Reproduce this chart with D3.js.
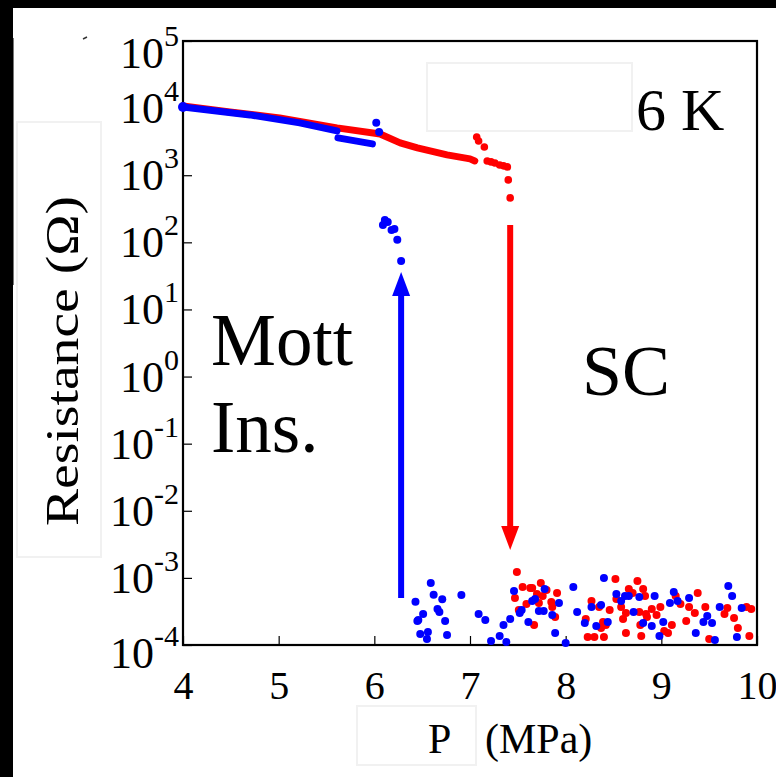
<!DOCTYPE html>
<html>
<head>
<meta charset="utf-8">
<script src="https://cdn.jsdelivr.net/npm/d3@7"></script>
<style>
    body { margin: 0; background: #fff; }
    svg { display: block; }
    text { font-family: "Liberation Serif", "Times New Roman", serif; fill: #000; }
</style>
</head>
<body>
<svg id="chart" width="776" height="777"></svg>
<script>

// axis ticks
var xTicks = [4, 5, 6, 7, 8, 9, 10];
var yExponents = [5, 4, 3, 2, 1, 0, -1, -2, -3, -4];

// red sweep (increasing pressure): dense part of the curve
var redLineP = [4.00, 4.49, 5.01, 5.61, 6.06, 6.27, 6.45, 6.76, 7.00, 7.05];
var redLineR = [10800, 8770, 7140, 5070, 4120, 3030, 2550, 2010, 1750, 1630];

// red sweep: separate points near the transition
var redDotP = [7.07, 7.09, 7.15, 7.18, 7.22, 7.26, 7.31, 7.35, 7.39, 7.40, 7.42];
var redDotR = [3720, 3240, 2640, 1630, 1580, 1520, 1420, 1380, 1330, 851, 459];

// red sweep: superconducting floor
var redLowP = [7.49, 7.47, 7.55, 7.63, 7.65, 7.59, 7.51, 7.67, 7.74, 7.70, 7.76, 7.80, 7.72, 7.85, 7.91, 7.86,
    7.89, 8.21, 8.27, 8.35, 8.46, 8.39, 8.37, 8.42, 8.23, 8.30, 8.40, 8.52, 8.53, 8.58, 8.63, 8.60,
    8.63, 8.66, 8.70, 8.75, 8.77, 8.81, 8.83, 8.84, 8.85, 8.78, 8.79, 8.90, 8.95, 8.99, 9.03, 9.07,
    9.11, 9.15, 9.20, 9.26, 9.29, 9.35, 9.38, 9.46, 9.50, 9.66, 9.69, 9.76, 9.80, 9.89, 9.94, 9.92];
var redLowR = [12.2e-4, 5.02e-4, 7.32e-4, 7.07e-4, 7.07e-4, 4.08e-4, 3.32e-4, 1.99e-4, 8.4e-4, 5.75e-4, 5.37e-4,
    6.6e-4, 4.23e-4, 4.37e-4, 5.95e-4, 3.69e-4, 2.61e-4, 2.44e-4, 4.53e-4, 3.69e-4, 3.32e-4, 2.2e-4,
    1.79e-4, 1.99e-4, 1.32e-4, 1.32e-4, 1.32e-4, 9.63e-4, 4.85e-4, 3.69e-4, 3.0e-4, 2.44e-4, 1.51e-4,
    6.83e-4, 5.95e-4, 8.99e-4, 3.1e-4, 6.83e-4, 5.37e-4, 2.9e-4, 2.61e-4, 1.99e-4, 1.36e-4, 3.44e-4,
    2.8e-4, 3.69e-4, 1.62e-4, 1.51e-4, 1.99e-4, 5.37e-4, 4.08e-4, 2.28e-4, 3.69e-4, 3.0e-4, 5.95e-4,
    3.69e-4, 1.23e-4, 2.9e-4, 3.56e-4, 2.53e-4, 1.79e-4, 3.69e-4, 3.44e-4, 1.36e-4];

// blue sweep (decreasing pressure): dense parts of the curve
var blueLineP = [4.00, 4.70, 5.22, 5.61];
var blueLineR = [10400, 7920, 6020, 4570];
var blueStepP = [5.62, 5.98];
var blueStepR = [3600, 2930];

// blue sweep: separate points near the transition
var blueDotP = [6.02, 6.05, 6.09, 6.11, 6.14, 6.18, 6.21, 6.24, 6.28];
var blueDotR = [6030, 4420, 182, 216, 201, 153, 158, 109, 52.8];

// blue sweep: superconducting floor
var blueLowP = [6.59, 6.43, 6.62, 6.71, 6.51, 6.66, 6.68, 6.45, 6.46, 6.74, 6.48, 6.56, 6.55, 6.76, 6.91, 7.09,
    7.16, 7.22, 7.31, 7.38, 7.35, 7.42, 7.46, 7.52, 7.54, 7.61, 7.65, 7.68, 7.72, 7.77, 7.78, 7.86,
    7.89, 7.93, 8.00, 8.08, 8.12, 8.20, 8.27, 8.32, 8.37, 8.40, 8.44, 8.53, 8.58, 8.62, 8.66, 8.71,
    8.77, 8.81, 8.90, 8.93, 8.98, 9.02, 9.09, 9.13, 9.17, 9.29, 9.36, 9.44, 9.48, 9.53, 9.56, 9.61,
    9.70, 9.74, 9.79, 9.84];
var blueLowR = [8.4e-4, 4.4e-4, 5.6e-4, 4.8e-4, 2.9e-4, 3.44e-4, 3.1e-4, 2.28e-4, 2.36e-4, 2.28e-4, 1.46e-4,
    1.56e-4, 1.23e-4, 1.41e-4, 5.56e-4, 2.9e-4, 2.36e-4, 1.15e-4, 1.36e-4, 1.11e-4, 1.99e-4, 2.44e-4,
    6.38e-4, 3.0e-4, 3.32e-4, 2.2e-4, 4.53e-4, 4.85e-4, 3.21e-4, 3.21e-4, 6.83e-4, 2.8e-4, 1.51e-4,
    4.23e-4, 1.07e-4, 7.32e-4, 3.1e-4, 2.13e-4, 3.69e-4, 1.92e-4, 3.95e-4, 9.97e-4, 2.2e-4, 5.75e-4,
    4.53e-4, 5.37e-4, 5.37e-4, 3.1e-4, 5.19e-4, 2.13e-4, 1.92e-4, 5.37e-4, 1.36e-4, 2.2e-4, 4.23e-4,
    6.16e-4, 4.53e-4, 5.02e-4, 1.51e-4, 2.2e-4, 2.71e-4, 2.13e-4, 1.19e-4, 3.69e-4, 7.57e-4, 5.37e-4,
    1.32e-4, 3.56e-4];

// transition arrows: pressure, start resistance, tip resistance
var blueArrow = { p: 6.28, from: 5.0e-4, to: 36 };
var redArrow = { p: 7.42, from: 182, to: 2.6e-3 };

var svg = d3.select('#chart');

// black scan edges along top and left
svg.append('rect').attr('x', 0).attr('y', 0).attr('width', 776).attr('height', 8).attr('fill', '#000');
svg.append('rect').attr('x', 0).attr('y', 0).attr('width', 13).attr('height', 777).attr('fill', '#000');
svg.append('line').attr('x1', 13.5).attr('x2', 13.5).attr('y1', 38).attr('y2', 285)
    .attr('stroke', '#777').attr('stroke-width', 1);
svg.append('line').attr('x1', 83).attr('x2', 87).attr('y1', 39).attr('y2', 37)
    .attr('stroke', '#333').attr('stroke-width', 1.5);

// faint leftover boxes around labels
[[427, 63, 205, 68], [17, 122, 84, 435], [357, 706, 119, 59]].forEach(function(b) {
    svg.append('rect')
        .attr('x', b[0]).attr('y', b[1]).attr('width', b[2]).attr('height', b[3])
        .attr('fill', 'none').attr('stroke', '#f1f1f1').attr('stroke-width', 2);
});

// scales
var x = d3.scaleLinear().domain([4, 10]).range([183, 757]);
var y = d3.scaleLog().domain([1e-4, 1e5]).range([645, 41]);

// x axis, ticks pointing inward
var xAxis = svg.append('g')
    .attr('transform', 'translate(0,645)')
    .call(d3.axisBottom(x).tickValues(xTicks).tickSize(-9).tickPadding(26).tickFormat(d3.format('d')));
xAxis.select('.domain').remove();
xAxis.selectAll('line').attr('stroke', '#000').attr('stroke-width', 1.2);
xAxis.selectAll('text')
    .attr('font-size', 40)
    .attr('font-family', '"Liberation Serif", serif');

// y axis with 10^n labels
var yAxis = svg.append('g')
    .attr('transform', 'translate(183,0)')
    .call(d3.axisLeft(y).tickValues(yExponents.map(function(e) { return Math.pow(10, e); }))
        .tickSize(-9).tickFormat(''));
yAxis.select('.domain').remove();
yAxis.selectAll('line').attr('stroke', '#000').attr('stroke-width', 1.2);

yExponents.forEach(function(e) {
    // end labels sit a bit lower than their ticks
    var shift = e === 5 ? 13 : (e === -4 ? 9 : 1);
    var t = svg.append('text')
        .attr('x', 179)
        .attr('y', y(Math.pow(10, e)) + shift + 14)
        .attr('text-anchor', 'end')
        .attr('font-size', 44);
    t.append('tspan').text('10');
    t.append('tspan').attr('font-size', 30).attr('dy', -22).text(String(e));
});

// plot frame
svg.append('rect')
    .attr('x', x(4)).attr('y', y(1e5))
    .attr('width', x(10) - x(4)).attr('height', y(1e-4) - y(1e5))
    .attr('fill', 'none').attr('stroke', '#000').attr('stroke-width', 2.2);

// axis titles
svg.append('text')
    .attr('transform', 'translate(78,361) rotate(-90)')
    .attr('text-anchor', 'middle')
    .attr('font-size', 46)
    .attr('textLength', 330)
    .attr('lengthAdjust', 'spacingAndGlyphs')
    .text('Resistance (\u03A9)');

svg.append('text').attr('x', 428).attr('y', 753).attr('font-size', 42).text('P');
svg.append('text').attr('x', 485).attr('y', 753).attr('font-size', 42).text('(MPa)');

// line generator for the dense runs of points
var line = d3.line()
    .x(function(d) { return x(d[0]); })
    .y(function(d) { return y(d[1]); });

function drawRun(pList, rList, colour) {
    svg.append('path')
        .datum(d3.zip(pList, rList))
        .attr('fill', 'none')
        .attr('stroke', colour)
        .attr('stroke-width', 7)
        .attr('stroke-linecap', 'round')
        .attr('stroke-linejoin', 'round')
        .attr('d', line);
}

function drawDots(pList, rList, colour, radius) {
    svg.append('g').selectAll('circle')
        .data(d3.zip(pList, rList))
        .join('circle')
        .attr('cx', function(d) { return x(d[0]); })
        .attr('cy', function(d) { return y(d[1]); })
        .attr('r', radius)
        .attr('fill', colour);
}

// red first, blue drawn over it
drawRun(redLineP, redLineR, '#ff0000');
drawDots(redDotP, redDotR, '#ff0000', 3.8);
drawDots(redLowP, redLowR, '#ff0000', 4);

drawRun(blueLineP, blueLineR, '#0000ff');
drawRun(blueStepP, blueStepR, '#0000ff');
drawDots([blueLineP[0]], [blueLineR[0]], '#0000ff', 5);
drawDots(blueDotP, blueDotR, '#0000ff', 4);
drawDots(blueLowP, blueLowR, '#0000ff', 4);

// arrows marking the transitions
function drawArrow(a, colour) {
    var ax = x(a.p);
    var y0 = y(a.from);
    var y1 = y(a.to);
    var dir = y1 < y0 ? 1 : -1;
    var headLen = 24;
    var headHalf = 9;
    svg.append('line')
        .attr('x1', ax).attr('x2', ax)
        .attr('y1', y0).attr('y2', y1 + dir * (headLen - 2))
        .attr('stroke', colour).attr('stroke-width', 6);
    svg.append('path')
        .attr('d', 'M' + ax + ',' + y1 +
            'L' + (ax - headHalf) + ',' + (y1 + dir * headLen) +
            'L' + (ax + headHalf) + ',' + (y1 + dir * headLen) + 'Z')
        .attr('fill', colour);
}

drawArrow(blueArrow, '#0000ff');
drawArrow(redArrow, '#ff0000');

// phase labels
svg.append('text').attr('x', 211).attr('y', 365).attr('font-size', 73).text('Mott');
svg.append('text').attr('x', 211).attr('y', 452).attr('font-size', 73).text('Ins.');
svg.append('text').attr('x', 582).attr('y', 395).attr('font-size', 72).text('SC');
svg.append('text').attr('x', 636).attr('y', 130).attr('font-size', 60).text('6 K');

</script>
</body>
</html>
